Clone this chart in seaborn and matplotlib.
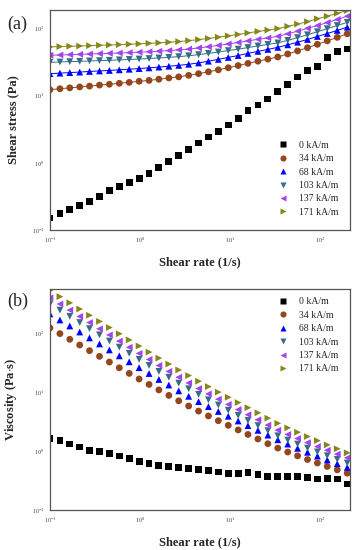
import numpy as np
import pandas as pd
import matplotlib
matplotlib.use('Agg')
import matplotlib.pyplot as plt
import seaborn as sns

# shear rate (1/s)
rate = [0.1, 0.129, 0.166, 0.214, 0.275, 0.355, 0.457, 0.589, 0.759, 0.977,
        1.26, 1.62, 2.09, 2.69, 3.47, 4.47, 5.75, 7.41, 9.55, 12.3,
        15.8, 20.4, 26.3, 33.9, 43.7, 56.2, 72.4, 93.3, 120, 155, 200]

fields = ['0 kA/m', '34 kA/m', '68 kA/m', '103 kA/m', '137 kA/m', '171 kA/m']

# shear stress (Pa)
stress_0 = [0.150, 0.177, 0.199, 0.231, 0.264, 0.314, 0.382, 0.443, 0.515, 0.591,
            0.702, 0.851, 1.035, 1.28, 1.60, 1.97, 2.42, 2.93, 3.66, 4.58,
            5.97, 7.26, 8.93, 11.6, 14.6, 19.0, 23.6, 27.4, 37.3, 45.8, 49.8]
stress_34 = [12.3, 12.7, 13.1, 13.5, 13.9, 14.4, 14.8, 15.3, 15.8, 16.4,
             16.9, 17.6, 18.4, 19.1, 20.1, 21.3, 22.7, 24.3, 26.1, 28.1,
             30.3, 32.7, 35.1, 37.8, 41.9, 46.5, 51.9, 58.3, 65.6, 74.0, 83.8]
stress_68 = [21.3, 21.7, 22.1, 22.5, 23.0, 23.4, 23.8, 24.3, 24.8, 25.4,
             26.0, 26.7, 27.5, 28.3, 29.4, 30.8, 32.7, 34.8, 37.2, 39.7,
             42.7, 45.8, 49.0, 52.6, 57.3, 62.7, 68.9, 76.4, 84.5, 94.0, 105]
stress_103 = [31.4, 31.8, 32.2, 32.5, 33.0, 33.3, 33.7, 34.2, 34.7, 35.2,
              35.8, 36.5, 37.3, 38.2, 39.4, 40.9, 42.7, 44.8, 47.0, 49.4,
              52.2, 55.2, 58.1, 61.2, 66.8, 73.5, 80.9, 89.9, 99.8, 111, 124]
stress_137 = [40.0, 40.5, 40.9, 41.3, 41.8, 42.3, 42.8, 43.3, 43.9, 44.5,
              45.2, 46.0, 47.0, 48.1, 49.5, 51.5, 53.7, 56.2, 59.0, 62.1,
              65.5, 69.2, 72.6, 76.7, 83.6, 91.4, 101, 111, 123, 137, 153]
stress_171 = [53.3, 54.0, 54.6, 55.1, 55.7, 56.4, 57.0, 57.7, 58.5, 59.3,
              60.3, 61.4, 62.7, 64.1, 66.1, 68.5, 71.3, 74.5, 78.0, 81.8,
              86.1, 90.8, 95.1, 100, 108, 117, 127, 140, 153, 169, 186]

# viscosity (Pa s)
visc_0 = [1.61, 1.49, 1.31, 1.17, 1.03, 0.975, 0.90, 0.824, 0.734, 0.67,
          0.605, 0.567, 0.538, 0.518, 0.498, 0.48, 0.461, 0.438, 0.416, 0.416,
          0.432, 0.395, 0.371, 0.371, 0.371, 0.371, 0.36, 0.334, 0.343, 0.334, 0.275]
visc_34 = [123, 98.6, 78.9, 63.1, 50.6, 40.5, 32.4, 25.9, 20.8, 16.7,
           13.5, 10.9, 8.79, 7.11, 5.81, 4.76, 3.94, 3.27, 2.73, 2.28,
           1.91, 1.60, 1.33, 1.12, 0.96, 0.826, 0.716, 0.625, 0.546, 0.478, 0.42]
visc_68 = [213, 168, 133, 105, 83.4, 65.9, 52.1, 41.3, 32.7, 26.0,
           20.7, 16.4, 13.2, 10.5, 8.49, 6.89, 5.68, 4.69, 3.89, 3.23,
           2.69, 2.24, 1.86, 1.55, 1.31, 1.11, 0.951, 0.818, 0.703, 0.607, 0.525]
visc_103 = [314, 247, 194, 152, 120, 94.0, 73.8, 58.1, 45.7, 36.0,
            28.4, 22.5, 17.9, 14.2, 11.4, 9.16, 7.41, 6.04, 4.92, 4.02,
            3.30, 2.70, 2.21, 1.81, 1.53, 1.31, 1.12, 0.964, 0.830, 0.719, 0.624]
visc_137 = [400, 314, 247, 193, 152, 119, 93.5, 73.5, 57.8, 45.5,
            35.9, 28.4, 22.5, 17.9, 14.3, 11.5, 9.33, 7.59, 6.18, 5.05,
            4.13, 3.39, 2.76, 2.26, 1.91, 1.63, 1.39, 1.19, 1.03, 0.885, 0.766]
visc_171 = [533, 419, 329, 258, 202, 159, 125, 98.0, 77.1, 60.7,
            47.9, 37.8, 30.0, 23.8, 19.1, 15.3, 12.4, 10.0, 8.17, 6.65,
            5.43, 4.45, 3.61, 2.95, 2.47, 2.08, 1.76, 1.50, 1.27, 1.09, 0.93]

stress_all = [stress_0, stress_34, stress_68, stress_103, stress_137, stress_171]
visc_all = [visc_0, visc_34, visc_68, visc_103, visc_137, visc_171]

rows = []
for f, s_list, v_list in zip(fields, stress_all, visc_all):
    for r, s, v in zip(rate, s_list, v_list):
        rows.append({'rate': r, 'stress': s, 'visc': v, 'field': f})
df = pd.DataFrame(rows)

colors = {'0 kA/m': '#000000', '34 kA/m': '#94461c', '68 kA/m': '#0000ff',
          '103 kA/m': '#336e86', '137 kA/m': '#a443ee', '171 kA/m': '#86861a'}
marks = {'0 kA/m': 's', '34 kA/m': 'o', '68 kA/m': '^',
         '103 kA/m': 'v', '137 kA/m': '<', '171 kA/m': '>'}

sns.set_style('white')
plt.rcParams['font.family'] = ['Liberation Serif', 'DejaVu Serif']
plt.rcParams['mathtext.fontset'] = 'stix'

fig = plt.figure(figsize=(3.62, 5.5), dpi=100)
ax1 = fig.add_axes([0.138, 0.582, 0.829, 0.400])
ax2 = fig.add_axes([0.138, 0.073, 0.829, 0.402])

# (a) shear stress
sns.lineplot(data=df[df['field'] != '0 kA/m'], x='rate', y='stress', hue='field',
             palette=colors, lw=0.7, legend=False, ax=ax1)
sns.scatterplot(data=df, x='rate', y='stress', hue='field', style='field',
                palette=colors, markers=marks, s=24, edgecolor='none', ax=ax1)
ax1.set_ylim(0.1, 190)
ax1.set_ylabel('Shear stress (Pa)', fontsize=9, fontweight='bold', labelpad=9)

# (b) viscosity
sns.scatterplot(data=df, x='rate', y='visc', hue='field', style='field',
                palette=colors, markers=marks, s=24, edgecolor='none', ax=ax2)
ax2.set_ylim(0.1, 570)
ax2.set_ylabel('Viscosity (Pa$\\cdot$s)', fontsize=9, fontweight='bold', labelpad=9)

for ax, loc, anchor in [(ax1, 'lower right', (0.99, 0.02)), (ax2, 'upper right', (0.99, 1.0))]:
    ax.set_xscale('log')
    ax.set_yscale('log')
    ax.set_xlim(0.1, 215)
    ax.set_xlabel('Shear rate (1/s)', fontsize=9, fontweight='bold', labelpad=8)
    ax.tick_params(which='major', direction='in', length=3, width=0.6,
                   labelsize=4.5, colors='#444444', pad=4)
    ax.tick_params(which='minor', direction='in', length=1.6, width=0.5, colors='#444444')
    for sp in ax.spines.values():
        sp.set_color('#555555')
        sp.set_linewidth(0.9)
    h, l = ax.get_legend_handles_labels()
    ax.legend(h, l, loc=loc, bbox_to_anchor=anchor, frameon=False, fontsize=7,
              handletextpad=0.6, labelspacing=0.45, markerscale=0.9)

fig.text(0.02, 0.948, '(a)', fontsize=13)
fig.text(0.02, 0.443, '(b)', fontsize=13)

fig.savefig('out.png', dpi=100)
